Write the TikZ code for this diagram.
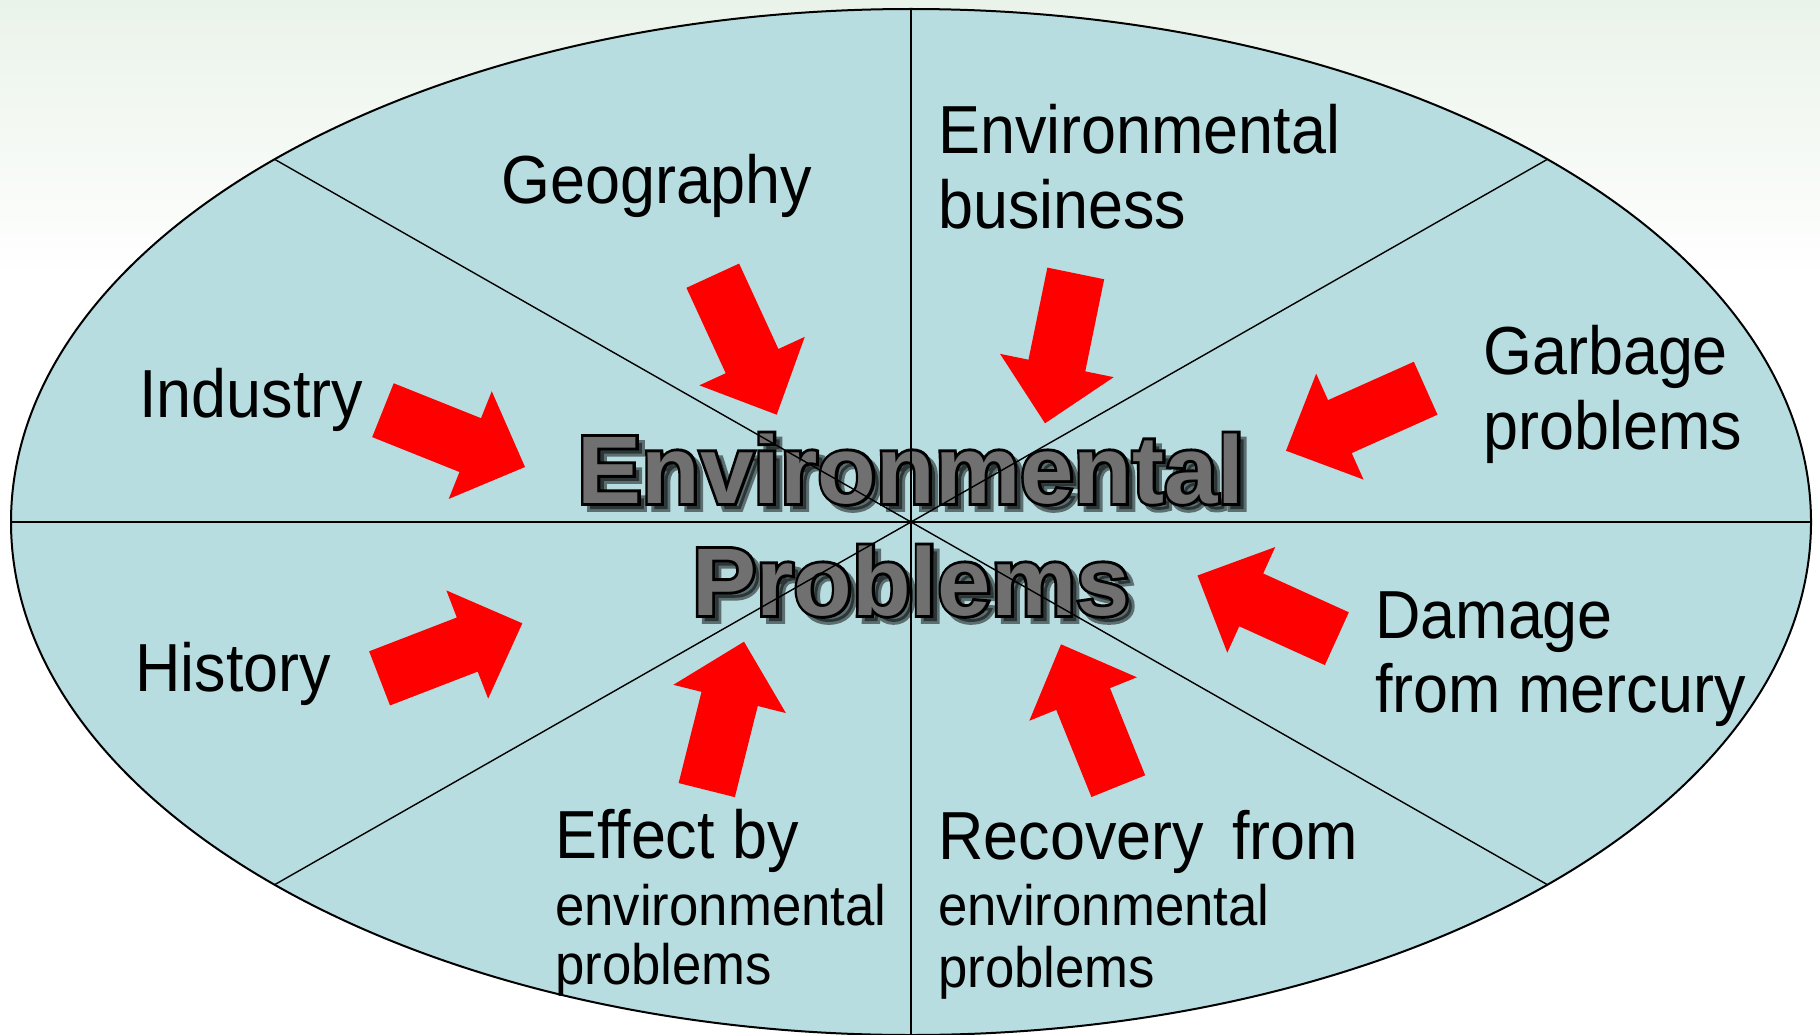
\documentclass[tikz,border=0pt]{standalone}
\usepackage{fontspec}
\setmainfont{Liberation Sans}
\newfontfamily\labfont[FakeStretch=0.925]{Liberation Sans}
\newfontfamily\ttlfont{Liberation Sans Bold}
\newfontfamily\ttloutfont[FakeBold=6]{Liberation Sans Bold}
\usetikzlibrary{calc}
\definecolor{ellfill}{RGB}{184,221,225}
\definecolor{bgtop}{RGB}{234,243,234}
\definecolor{arrred}{RGB}{255,0,0}
\definecolor{ttlgrey}{RGB}{112,112,112}
\begin{document}
\begin{tikzpicture}[x=1pt,y=-1pt,
  lab/.style={anchor=base west, inner sep=0pt, font=\labfont\fontsize{68}{80}\selectfont},
  labsmall/.style={anchor=base west, inner sep=0pt, font=\labfont\fontsize{57}{66}\selectfont},
  ttl/.style={anchor=base, inner sep=0pt, font=\ttlfont\fontsize{96}{110}\selectfont},
  ttlout/.style={anchor=base, inner sep=0pt, font=\ttloutfont\fontsize{96}{110}\selectfont},
  spoke/.style={draw=black, line width=1.4pt},
  barrow/.pic={\fill[arrred] (0,0) -- (-59,58) -- (-59,29) -- (-153,29) -- (-153,-29) -- (-59,-29) -- (-59,-58) -- cycle;}
]
\useasboundingbox (0,0) rectangle (1820,1035);
\clip (0,0) rectangle (1820,1035);
\fill[white] (0,0) rectangle (1820,1035);
\shade[top color=bgtop, bottom color=white] (0,0) rectangle (1820,280);

% ellipse
\coordinate (c) at (911,522);
\fill[ellfill] (c) ellipse [x radius=900pt, y radius=513pt];

% title: shadow, outline, fill
\foreach \nm/\yy/\tx in {te/503/Environmental, tp/615/Problems} {
  \node[ttlout, text=black, text opacity=.5] (\nm-sh) at (917,\yy+6) {\tx};
  \node[ttlout, text=black] (\nm-out) at (911,\yy) {\tx};
  \node[ttl, text=ttlgrey] (\nm) at (911,\yy) {\tx};
}

% spokes
\coordinate (ptl) at (274.6,159.3);
\coordinate (pbr) at (1547.4,884.7);
\coordinate (ptr) at (1547.4,159.3);
\coordinate (pbl) at (274.6,884.7);
\coordinate (ptop) at (911,9);
\coordinate (pbot) at (911,1035);
\coordinate (pl) at (11,522);
\coordinate (pr) at (1811,522);
\draw[spoke] (ptl) -- (pbr);
\draw[spoke] (ptr) -- (pbl);
\draw[spoke] (ptop) -- (pbot);
\draw[spoke] (pl) -- (pr);
\draw[black, line width=2pt] (c) ellipse [x radius=900pt, y radius=513pt];

% arrows
\pic[rotate=-21.8] at (525,467) {barrow};
\pic[rotate=-65.3] at (776.7,414.7) {barrow};
\pic[rotate=-101.6] at (1045,423.3) {barrow};
\pic[rotate=-155.9] at (1286,450.7) {barrow};
\pic[rotate=21.1] at (522.3,623.3) {barrow};
\pic[rotate=75.9] at (744,641.7) {barrow};
\pic[rotate=112.0] at (1061,644.3) {barrow};
\pic[rotate=155.6] at (1197.5,575.5) {barrow};

% labels
\node[lab] (geo) at (501,204) {Geography};
\node[lab] (envb1) at (938,154) {Environmental};
\node[lab] (envb2) at (938,229) {business};
\node[lab] (ind) at (139,417) {Industry};
\node[lab] (garb1) at (1483,374) {Garbage};
\node[lab] (garb2) at (1483,449) {problems};
\node[lab] (hist) at (135,691) {History};
\node[lab] (dam1) at (1375,638) {Damage};
\node[lab] (dam2) at (1375,712) {from mercury};
\node[lab] (eff1) at (555,858) {Effect by};
\node[labsmall] (eff2) at (555,925) {environmental};
\node[labsmall] (eff3) at (555,984) {problems};
\node[lab] (rec1) at (938,859) {Recovery\hspace{0.42em}from};
\node[labsmall] (rec2) at (938,925) {environmental};
\node[labsmall] (rec3) at (938,987) {problems};
\end{tikzpicture}
\end{document}
